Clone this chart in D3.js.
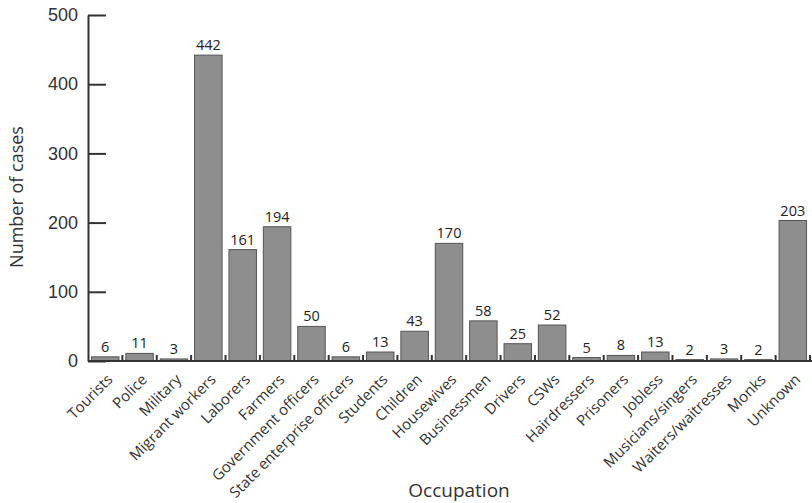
<!DOCTYPE html>
<html>
<head>
<meta charset="utf-8">
<script src="https://cdn.jsdelivr.net/npm/d3@7"></script>
<style>
  body { margin: 0; background: #fff; }
  svg { font-family: "Open Sans", "DejaVu Sans", sans-serif; }
</style>
</head>
<body>
<svg id="chart" width="812" height="503"></svg>
<script>
var occupations = ["Tourists","Police","Military","Migrant workers","Laborers","Farmers","Government officers","State enterprise officers","Students","Children","Housewives","Businessmen","Drivers","CSWs","Hairdressers","Prisoners","Jobless","Musicians/singers","Waiters/waitresses","Monks","Unknown"];
var cases = [6,11,3,442,161,194,50,6,13,43,170,58,25,52,5,8,13,2,3,2,203];
var yTicks = [0,100,200,300,400,500];

var margin = {top: 15, right: 0, bottom: 142, left: 88},
    width = 812 - margin.left - margin.right,
    height = 503 - margin.top - margin.bottom;

var svg = d3.select("#chart");
var g = svg.append("g").attr("transform", "translate(" + margin.left + "," + margin.top + ")");

var x = d3.scaleBand()
    .domain(occupations)
    .range([0, width - 2])
    .paddingInner(0.2)
    .paddingOuter(0.1);

var y = d3.scaleLinear()
    .domain([0, 500])
    .range([height, 0]);

// bars
g.selectAll("rect.bar")
    .data(cases)
    .enter()
    .append("rect")
    .attr("class", "bar")
    .attr("x", function(d, i){ return x(occupations[i]); })
    .attr("y", function(d){ return y(d); })
    .attr("width", x.bandwidth())
    .attr("height", function(d){ return height - y(d); })
    .attr("fill", "#8e8e8e")
    .attr("stroke", "#555")
    .attr("stroke-width", 1);

// value labels
g.selectAll("text.val")
    .data(cases)
    .enter()
    .append("text")
    .attr("class", "val")
    .attr("x", function(d, i){ return x(occupations[i]) + x.bandwidth() / 2; })
    .attr("y", function(d){ return y(d) - 5; })
    .attr("text-anchor", "middle")
    .attr("font-size", "14.5px")
    .attr("fill", "#222")
    .text(function(d){ return d; });

// y axis
var yAxis = g.append("g")
    .call(d3.axisRight(y).tickValues(yTicks).tickSize(18).tickSizeOuter(0));
yAxis.select(".domain").attr("stroke", "#333").attr("stroke-width", 2);
yAxis.selectAll(".tick line").attr("stroke", "#333").attr("stroke-width", 2);
yAxis.selectAll(".tick text")
    .attr("x", -10)
    .attr("text-anchor", "end")
    .attr("font-size", "18px")
    .attr("fill", "#333");

// x axis line with band boundary ticks pointing up
g.append("line")
    .attr("x1", 0).attr("x2", width)
    .attr("y1", height).attr("y2", height)
    .attr("stroke", "#333").attr("stroke-width", 2);

var step = x.step();
var bounds = occupations.map(function(c){ return x(c) - x.paddingInner() * step / 2; }).slice(1);
bounds.push(x(occupations[occupations.length - 1]) + x.bandwidth() + x.paddingInner() * step / 2);
g.selectAll("line.bt")
    .data(bounds)
    .enter()
    .append("line")
    .attr("class", "bt")
    .attr("x1", function(d){ return d; }).attr("x2", function(d){ return d; })
    .attr("y1", height).attr("y2", height - 6)
    .attr("stroke", "#333").attr("stroke-width", 2);

// category labels
g.selectAll("text.cat")
    .data(occupations)
    .enter()
    .append("text")
    .attr("class", "cat")
    .attr("transform", function(d){
        return "translate(" + (x(d) + x.bandwidth() / 2 + 1) + "," + (height + 12) + ") rotate(-45)";
    })
    .attr("text-anchor", "end")
    .attr("dy", "0.7em")
    .attr("font-size", "15px")
    .attr("fill", "#333")
    .text(function(d){ return d; });

// axis titles
svg.append("text")
    .attr("transform", "translate(23,197) rotate(-90)")
    .attr("text-anchor", "middle")
    .attr("font-size", "18px")
    .attr("fill", "#333")
    .text("Number of cases");

svg.append("text")
    .attr("x", 459)
    .attr("y", 497)
    .attr("text-anchor", "middle")
    .attr("font-size", "19px")
    .attr("fill", "#333")
    .text("Occupation");
</script>
</body>
</html>
